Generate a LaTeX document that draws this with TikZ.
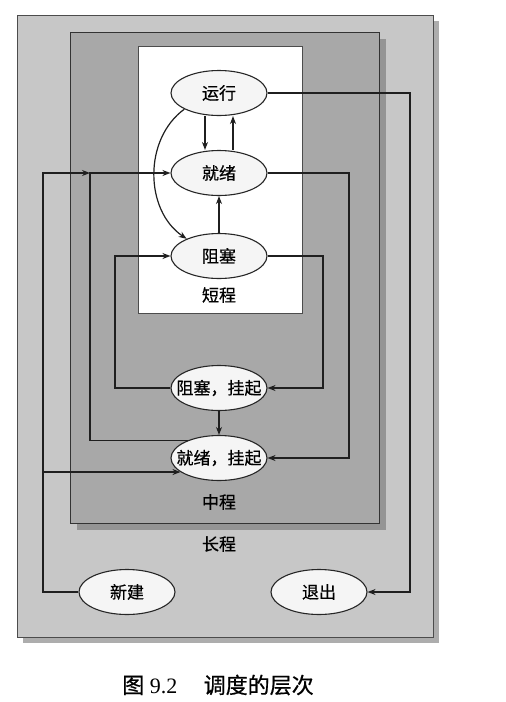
\documentclass[tikz,border=0pt]{standalone}
\usepackage{fontspec}
\setmainfont{Liberation Serif}
\newfontfamily\cjk[FakeBold=0.6]{Noto Sans CJK SC}
\usetikzlibrary{arrows.meta,shapes.geometric}
\begin{document}
\begin{tikzpicture}[x=1pt,y=-1pt,
    state/.style={ellipse,draw=black!85,fill=black!4,line width=1.1pt,
      minimum width=96pt,minimum height=45pt,inner sep=0pt,
      font=\cjk\fontsize{17}{19}\selectfont},
    level/.style={font=\cjk\fontsize{17}{19}\selectfont},
    flow/.style={line width=1.2pt,draw=black!88,-{Stealth[length=8pt,width=6pt]}}]
  \useasboundingbox (0,0) rectangle (506,702);
  \fill[white] (0,0) rectangle (506,702);
  \fill[black!32] (23,21) rectangle (439,643);
  \filldraw[fill=black!22,draw=black!70,line width=0.9pt] (17,15) rectangle (433,637);
  \fill[black!42] (77,39) rectangle (386,530);
  \filldraw[fill=black!34,draw=black!80,line width=0.9pt] (70,32) rectangle (379,523);
  \filldraw[fill=white,draw=black!70,line width=0.9pt] (138,46) rectangle (302,313);
  \draw
    (219,93) node[state] (run){运行}
    (219,173) node[state] (ready){就绪}
    (219,256) node[state] (blocked){阻塞}
    (219,388) node[state] (bsusp){\makebox[0pt]{阻塞，挂起}}
    (219,458) node[state] (rsusp){\makebox[0pt]{就绪，挂起}}
    (127,592) node[state] (new){新建}
    (319,592) node[state] (exit){退出}
    (219,295) node[level] (short){短程}
    (219,502) node[level] (medium){中程}
    (219,544) node[level] (long){长程}
    (218,685) node[font=\fontsize{22}{24}\selectfont] (caption){{\cjk 图}~9.2\hspace{1.2em}{\cjk 调度的层次}};
  \coordinate (x43) at (43,0);
  \coordinate (x90) at (90,0);
  \coordinate (x115) at (115,0);
  \coordinate (x323) at (323,0);
  \coordinate (x349) at (349,0);
  \coordinate (x410) at (410,0);
  \begin{scope}[flow]
    \draw ([xshift=-14pt]run.south) to ([xshift=-14pt]ready.north);
    \draw ([xshift=14pt]ready.north) to ([xshift=14pt]run.south);
    \draw (blocked.north) to (ready.south);
    \draw (run.205) to[bend right=55] (blocked.152);
    \draw (bsusp.south) to (rsusp.north);
    \draw (run.east) -| (x410 |- exit.east) -- (exit.east);
    \draw (ready.east) -| (x349 |- rsusp.east) -- (rsusp.east);
    \draw (blocked.east) -| (x323 |- bsusp.east) -- (bsusp.east);
    \draw (bsusp.west) -| (x115 |- blocked.west) -- (blocked.west);
    \draw (rsusp.150) -| (x90 |- ready.west) -- (ready.west);
    \draw (new.west) -| (x43 |- ready.west) -- (x90 |- ready.west);
    \draw (x43 |- rsusp.200) -- (rsusp.200);
  \end{scope}
\end{tikzpicture}
\end{document}
